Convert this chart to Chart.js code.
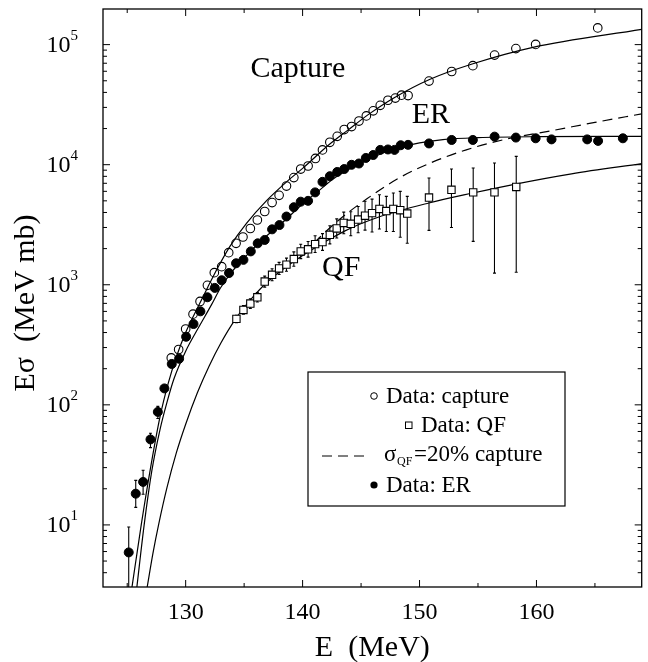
<!DOCTYPE html>
<html>
<head>
<meta charset="UTF-8">
<title>E sigma vs E</title>
<script src="https://cdn.jsdelivr.net/npm/chart.js"></script>
<style>
  html, body { margin: 0; padding: 0; background: #fff; }
  #chart { display: block; }
</style>
</head>
<body>
<canvas id="chart" width="648" height="662"></canvas>
<script>
// ---- data ----
const captureE = [128.77, 129.40, 130.00, 130.63, 131.23, 131.86, 132.45, 133.08, 133.68, 134.31, 134.90, 135.53,
  136.13, 136.76, 137.39, 137.99, 138.62, 139.25, 139.84, 140.47, 141.10, 141.70, 142.33, 142.96, 143.56, 144.19,
  144.82, 145.45, 146.04, 146.64, 147.30, 147.93, 148.46, 149.02, 150.81, 152.75, 154.56, 156.42, 158.24, 159.93, 165.24];
const captureVal = [246, 289, 428, 569, 726, 989, 1262, 1415, 1851, 2212, 2500, 2943,
  3464, 4077, 4838, 5559, 6640, 7810, 9200, 9750, 11270, 13270, 15370, 17230, 19620, 20780,
  23100, 25480, 28080, 31200, 34400, 35850, 37940, 37670, 49700, 59700, 66800, 81800, 92700, 100400, 137800];

const erE = [125.13, 125.73, 126.36, 126.99, 127.62, 128.18, 128.81, 129.44, 130.04, 130.67, 131.26, 131.86,
  132.49, 133.08, 133.71, 134.31, 134.94, 135.57, 136.16, 136.76, 137.39, 138.02, 138.62, 139.25, 139.84, 140.47,
  141.07, 141.70, 142.33, 142.96, 143.56, 144.19, 144.82, 145.41, 146.04, 146.64, 147.30, 147.86, 148.39, 149.02,
  150.81, 152.75, 154.56, 156.42, 158.24, 159.93, 161.29, 164.34, 165.27, 167.39];
const erVal = [5.9, 18.2, 22.8, 51.5, 87.3, 137, 219, 242, 369, 471, 601, 787,
  942, 1090, 1252, 1510, 1612, 1897, 2213, 2362, 2895, 3143, 3700, 4425, 4920, 5000,
  5880, 7200, 8020, 8700, 9200, 9980, 10230, 11380, 12040, 13280, 13390, 13280, 14520, 14630,
  15030, 16070, 16070, 17130, 16820, 16590, 16250, 16250, 15780, 16590];
// error bars only where they stick out of the marker
const erErrLo = [1, 14, 18, 44, 77];
const erErrHi = [9.6, 23.5, 28.5, 58, 97];

const qfE = [134.34, 134.94, 135.53, 136.13, 136.76, 137.39, 137.99, 138.62, 139.25, 139.84, 140.47, 141.07,
  141.70, 142.33, 142.92, 143.52, 144.12, 144.75, 145.34, 145.94, 146.57, 147.16, 147.76, 148.35, 148.95,
  150.81, 152.73, 154.59, 156.41, 158.27];
const qfVal = [520, 617, 697, 787, 1064, 1211, 1368, 1471, 1636, 1895, 1975, 2180,
  2270, 2606, 2944, 3275, 3220, 3490, 3760, 3950, 4280, 4110, 4280, 4180, 3920,
  5330, 6180, 5880, 5880, 6530];
const qfErrLo = [484, 568, 636, 718, 956, 1079, 1219, 1297, 1425, 1650, 1700, 1855,
  1932, 2192, 2449, 2662, 2558, 2712, 2852, 2750, 2910, 2780, 2780, 2490, 2220,
  2840, 3000, 2300, 1250, 1270];
const qfErrHi = [557, 670, 764, 863, 1180, 1359, 1535, 1668, 1878, 2176, 2294, 2561,
  2667, 3098, 3539, 4029, 4054, 4491, 4957, 5170, 5620, 5450, 5810, 5990, 5450,
  7740, 9200, 9380, 10320, 11720];

// calculated curves (solid) and the 20% line (dashed)
const capCurveE = [125.40, 126.2, 127.0, 127.8, 128.5, 129.2, 130.0, 130.9, 131.9, 132.8, 133.8, 135.2,
  136.9, 138.7, 140.1, 142.2, 143.9, 145.7, 147.8, 150.9, 154.5, 159.7, 169.0];
const capCurveVal = [3.0, 10, 30, 79, 150, 250, 400, 610, 960, 1420, 2100, 3250,
  5000, 7300, 9500, 14500, 19500, 26500, 36000, 51500, 69000, 95000, 134000];

const erCurveE = [125.82, 126.45, 127.1, 127.8, 128.4, 129.0, 130.0, 131.1, 132.2, 133.0, 134.0, 135.2,
  136.5, 138.2, 140.0, 141.5, 142.7, 144.0, 146.0, 148.0, 150.0, 152.0, 155.0, 160.0, 169.0];
const erCurveVal = [3.0, 10, 28, 62, 105, 165, 280, 440, 680, 950, 1300, 1750,
  2350, 3250, 4700, 6200, 7700, 9200, 11500, 13700, 15200, 16200, 16800, 17100, 17200];

const qfCurveE = [126.7, 127.2, 127.7, 128.4, 129.2, 130.0, 131.0, 132.0, 133.0, 134.23, 135.5, 137.05, 139.87,
  143.54, 146.4, 150.8, 154.56, 158.2, 163.0, 169.0];
const qfCurveVal = [3.0, 5.8, 10.2, 20.4, 39.8, 69, 126, 210, 326, 513, 741, 1070, 1722,
  2783, 3630, 4800, 5810, 6900, 8400, 10200];

const dashE = [140.0, 141.5, 143.0, 145.5, 148.3, 151.0, 154.0, 157.5, 161.3, 165.0, 169.0];
const dashVal = [1780, 2500, 3400, 5200, 7800, 10400, 13300, 16400, 19200, 22500, 26500];

const xTickVals = [130, 140, 150, 160];
const xMinorVals = [125, 135, 145, 155, 165];
const yTickExp = [1, 2, 3, 4, 5];

const pts = (xs, ys) => xs.map((x, i) => ({ x: x, y: ys[i] }));
const SERIF = '"Liberation Serif", "DejaVu Serif", serif';

// frame, inward ticks, tick labels, titles, in-plot text, legend
const decorPlugin = {
  id: 'decor',
  beforeDatasetsDraw(chart) {
    const { ctx, chartArea: a, scales: { x, y } } = chart;
    ctx.save();
    ctx.beginPath();
    ctx.rect(a.left, a.top, a.right - a.left, a.bottom - a.top);
    ctx.clip();
    ctx.strokeStyle = '#000';
    ctx.lineWidth = 1.1;
    const bar = (e, lo, hi) => {
      const px = x.getPixelForValue(e);
      const p1 = y.getPixelForValue(lo), p2 = y.getPixelForValue(hi);
      ctx.beginPath();
      ctx.moveTo(px, p1); ctx.lineTo(px, p2);
      ctx.moveTo(px - 1.5, p1); ctx.lineTo(px + 1.5, p1);
      ctx.moveTo(px - 1.5, p2); ctx.lineTo(px + 1.5, p2);
      ctx.stroke();
    };
    erErrLo.forEach((lo, i) => bar(erE[i], lo, erErrHi[i]));
    qfErrLo.forEach((lo, i) => bar(qfE[i], lo, qfErrHi[i]));
    ctx.restore();
  },
  afterDraw(chart) {
    const { ctx, chartArea: a, scales: { x, y } } = chart;
    ctx.save();
    ctx.strokeStyle = '#000';
    ctx.fillStyle = '#000';
    ctx.lineWidth = 1.3;
    ctx.strokeRect(a.left, a.top, a.right - a.left, a.bottom - a.top);

    ctx.lineWidth = 1;
    ctx.beginPath();
    const xt = (v, len) => {
      const px = x.getPixelForValue(v);
      ctx.moveTo(px, a.bottom); ctx.lineTo(px, a.bottom - len);
      ctx.moveTo(px, a.top); ctx.lineTo(px, a.top + len);
    };
    xTickVals.forEach(v => xt(v, 7));
    xMinorVals.forEach(v => xt(v, 4));
    const yt = (v, len) => {
      const py = y.getPixelForValue(v);
      if (py < a.top - 0.5 || py > a.bottom + 0.5) return;
      ctx.moveTo(a.left, py); ctx.lineTo(a.left + len, py);
      ctx.moveTo(a.right, py); ctx.lineTo(a.right - len, py);
    };
    for (let d = 0; d <= 5; d++) {
      for (let m = 1; m <= 9; m++) yt(m * Math.pow(10, d), m === 1 ? 7 : 4);
    }
    ctx.stroke();

    // x tick labels
    ctx.font = '24px ' + SERIF;
    ctx.textAlign = 'center';
    ctx.textBaseline = 'middle';
    xTickVals.forEach(v => ctx.fillText(String(v), x.getPixelForValue(v), a.bottom + 26));

    // y tick labels 10^n
    yTickExp.forEach(n => {
      const py = y.getPixelForValue(Math.pow(10, n));
      ctx.font = '15px ' + SERIF;
      ctx.textAlign = 'right';
      ctx.textBaseline = 'middle';
      const ew = ctx.measureText(String(n)).width;
      ctx.fillText(String(n), 78, py - 9);
      ctx.font = '24px ' + SERIF;
      ctx.fillText('10', 78 - ew, py + 1);
    });

    // axis titles
    ctx.font = '30px ' + SERIF;
    ctx.textAlign = 'center';
    ctx.fillText('E  (MeV)', (a.left + a.right) / 2 + 0, 648);
    ctx.save();
    ctx.translate(26, (a.top + a.bottom) / 2 + 5);
    ctx.rotate(-Math.PI / 2);
    ctx.fillText('E\u03C3  (MeV mb)', 0, 0);
    ctx.restore();

    // labels inside the plot
    ctx.fillText('Capture', x.getPixelForValue(139.6), y.getPixelForValue(62000));
    ctx.fillText('ER', x.getPixelForValue(150.97), y.getPixelForValue(26100));
    ctx.fillText('QF', x.getPixelForValue(143.3), y.getPixelForValue(1380));

    // legend box
    ctx.lineWidth = 1.2;
    ctx.strokeRect(308, 372, 257, 134);
    ctx.font = '23px ' + SERIF;
    ctx.textAlign = 'left';
    ctx.lineWidth = 1;
    // capture
    ctx.beginPath(); ctx.arc(374, 396, 3.3, 0, 2 * Math.PI); ctx.stroke();
    ctx.fillText('Data: capture', 386, 397);
    // QF
    ctx.strokeRect(405.5, 422, 6.5, 6.5);
    ctx.fillText('Data: QF', 421, 426);
    // dashed
    ctx.setLineDash([10, 6]);
    ctx.beginPath(); ctx.moveTo(322, 456); ctx.lineTo(366, 456); ctx.stroke();
    ctx.setLineDash([]);
    ctx.fillText('\u03C3', 384, 455);
    ctx.font = '12px ' + SERIF;
    ctx.fillText('QF', 397, 462);
    ctx.font = '23px ' + SERIF;
    ctx.fillText('=20% capture', 414, 455);
    // ER
    ctx.beginPath(); ctx.arc(374, 485, 3.6, 0, 2 * Math.PI); ctx.fill();
    ctx.fillText('Data: ER', 386, 486);
    ctx.restore();
  }
};

const curve = (xs, ys, dash) => ({
  data: pts(xs, ys), showLine: true, pointRadius: 0, borderColor: '#000',
  borderWidth: 1.2, borderDash: dash || [], cubicInterpolationMode: 'monotone', fill: false, order: 5
});

new Chart(document.getElementById('chart'), {
  type: 'scatter',
  data: {
    datasets: [
      curve(capCurveE, capCurveVal),
      curve(erCurveE, erCurveVal),
      curve(qfCurveE, qfCurveVal),
      curve(dashE, dashVal, [10, 6]),
      { label: 'Data: capture', data: pts(captureE, captureVal), pointStyle: 'circle', pointRadius: 4.3,
        borderColor: '#000', backgroundColor: 'rgba(0,0,0,0)', borderWidth: 1.1, order: 1 },
      { label: 'Data: QF', data: pts(qfE, qfVal), pointStyle: 'rect', pointRadius: 5.2,
        borderColor: '#000', backgroundColor: '#fff', borderWidth: 1.1, order: 2 },
      { label: 'Data: ER', data: pts(erE, erVal), pointStyle: 'circle', pointRadius: 4.5,
        borderColor: '#000', backgroundColor: '#000', borderWidth: 1, order: 3 }
    ]
  },
  options: {
    responsive: false,
    animation: false,
    events: [],
    layout: { padding: { top: 9, right: 1, left: 0, bottom: 0 } },
    plugins: { legend: { display: false }, tooltip: { enabled: false } },
    scales: {
      x: {
        type: 'linear', min: 122.93, max: 169.0,
        grid: { display: false }, border: { display: false }, ticks: { display: false },
        afterFit(s) { s.height = 75; }
      },
      y: {
        type: 'logarithmic', min: 3.04, max: 198000,
        grid: { display: false }, border: { display: false }, ticks: { display: false },
        afterFit(s) { s.width = 103; }
      }
    }
  },
  plugins: [decorPlugin]
});
</script>
</body>
</html>
